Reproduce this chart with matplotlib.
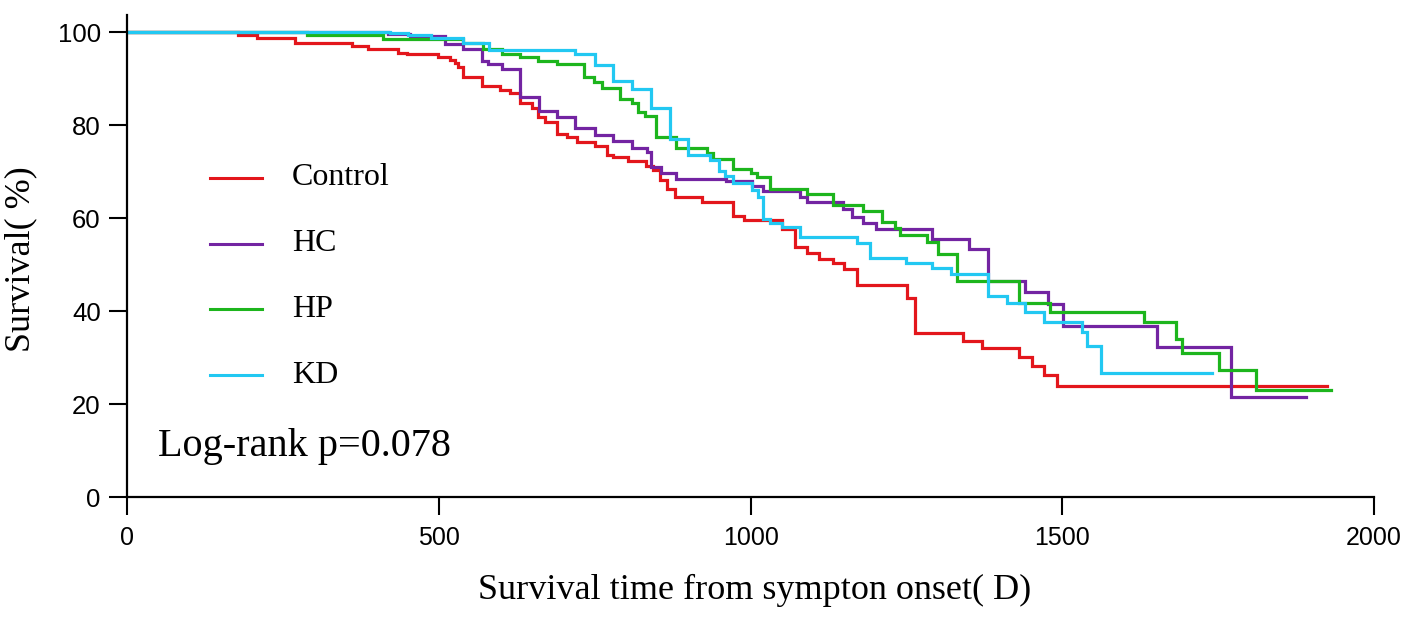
import matplotlib
matplotlib.use("Agg")
import matplotlib.pyplot as plt

# Kaplan-Meier steps (days, survival %)
control_t = [0, 178, 208, 269, 360, 386, 434, 449, 499, 518, 526, 531, 539, 569, 598, 614,
             630, 649, 659, 670, 689, 705, 721, 750, 769, 779, 803, 833, 843, 855, 866, 878,
             922, 971, 990, 1051, 1071, 1091, 1110, 1132, 1150, 1170, 1251, 1264, 1340, 1371,
             1431, 1451, 1471, 1491, 1925]
control_s = [100, 99.4, 98.8, 97.6, 97.1, 96.3, 95.6, 95.3, 94.6, 94.0, 93.3, 92.5, 90.4, 88.5, 87.6, 87.0,
             84.7, 83.8, 81.8, 80.7, 78.1, 77.5, 76.4, 75.5, 73.5, 73.1, 72.3, 71.2, 70.3, 68.3, 66.3, 64.5,
             63.5, 60.4, 59.6, 57.6, 53.7, 52.4, 51.3, 50.3, 49.0, 45.6, 42.8, 35.3, 33.6, 32.0,
             30.2, 28.2, 26.2, 23.9, 23.9]

hc_t = [0, 418, 454, 510, 539, 569, 579, 601, 630, 660, 689, 719, 750, 780, 810, 834, 841, 857,
        880, 960, 1002, 1020, 1079, 1090, 1148, 1162, 1180, 1201, 1291, 1351, 1381, 1441, 1477,
        1501, 1652, 1771, 1891]
hc_s = [100, 99.6, 99.1, 97.5, 96.3, 93.8, 93.1, 92.0, 86.1, 83.1, 81.8, 79.3, 77.8, 76.6, 75.2, 74.3, 71.0, 69.8,
        68.5, 68.0, 66.9, 65.8, 64.6, 63.4, 61.9, 60.3, 58.9, 57.6, 55.6, 53.3, 46.5, 44.1, 41.6,
        36.8, 32.2, 21.5, 21.5]

hp_t = [0, 288, 410, 539, 571, 601, 630, 659, 689, 732, 748, 761, 790, 809, 820, 831, 849, 881,
        930, 940, 971, 1001, 1011, 1031, 1090, 1132, 1181, 1211, 1232, 1240, 1283, 1301, 1331,
        1431, 1480, 1631, 1682, 1692, 1751, 1811, 1931]
hp_s = [100, 99.3, 98.6, 97.6, 96.3, 95.4, 94.6, 93.9, 93.1, 90.4, 89.3, 88.0, 85.7, 84.7, 82.9, 82.0, 77.4, 75.2,
        74.1, 72.8, 70.5, 69.7, 68.9, 66.2, 65.1, 62.8, 61.5, 59.2, 57.8, 56.3, 54.9, 52.3, 46.5,
        41.7, 39.7, 37.7, 34.1, 30.9, 27.3, 23.0, 23.0]

kd_t = [0, 421, 450, 488, 539, 580, 719, 750, 780, 809, 841, 871, 900, 935, 950, 959, 972, 1002,
        1012, 1020, 1031, 1050, 1079, 1170, 1192, 1250, 1291, 1321, 1381, 1411, 1441, 1471, 1531,
        1540, 1562, 1741]
kd_s = [100, 99.8, 99.4, 98.7, 97.6, 96.1, 95.3, 92.9, 89.5, 87.7, 83.6, 77.1, 73.5, 72.5, 70.2, 69.0, 67.5, 66.0,
        64.6, 59.9, 59.0, 58.1, 56.0, 54.7, 51.5, 50.4, 49.3, 47.9, 43.3, 41.7, 39.7, 37.7, 35.4,
        32.4, 26.6, 26.6]

groups = ["Control", "HC", "HP", "KD"]
colors = ["#E3161C", "#7324A2", "#1DB51D", "#22C8F2"]
x_ticks = [0, 500, 1000, 1500, 2000]
y_ticks = [0, 20, 40, 60, 80, 100]

serif = "Liberation Serif"
sans = "Liberation Sans"

fig = plt.figure(figsize=(14.17, 6.24), dpi=100)
ax = fig.add_axes([0.0898, 0.2035, 0.8798, 0.7724])

series = [(control_t, control_s), (hc_t, hc_s), (hp_t, hp_s), (kd_t, kd_s)]
for (t, s), c in zip(series, colors):
    ax.step(t, s, where="post", color=c, lw=2.3, solid_joinstyle="miter")

ax.set_xlim(0, 2000)
ax.set_ylim(0, 103.7)
ax.set_xticks(x_ticks)
ax.set_yticks(y_ticks)
ax.set_xticklabels([str(v) for v in x_ticks], fontfamily=sans, fontsize=18)
ax.set_yticklabels([str(v) for v in y_ticks], fontfamily=sans, fontsize=18.5)
ax.tick_params(direction="out", length=13, width=1.5, color="black")
ax.tick_params(axis="x", pad=8)
ax.tick_params(axis="y", pad=6)
for side in ["top", "right"]:
    ax.spines[side].set_visible(False)
for side in ["left", "bottom"]:
    ax.spines[side].set_linewidth(1.6)

# key
key_y = [0.662, 0.525, 0.390, 0.253]
for name, c, y in zip(groups, colors, key_y):
    ax.plot([0.0663, 0.108], [y, y], color=c, lw=2.2, transform=ax.transAxes, clip_on=False)
    ax.text(0.132, y, name, transform=ax.transAxes, va="center", ha="left",
            fontsize=23, family=serif)

ax.text(0.0248, 0.104, "Log-rank p=0.078", transform=ax.transAxes, va="center", ha="left",
        fontsize=29, family=serif)

fig.text(755 / 1417, 1 - 590 / 624, "Survival time from sympton onset( D)", ha="center", va="center",
         fontsize=26, family=serif)
fig.text(21 / 1417, 1 - 259 / 624, "Survival( %)", ha="center", va="center", rotation=90,
         fontsize=26, family=serif)

fig.savefig("out.png", dpi=100)
